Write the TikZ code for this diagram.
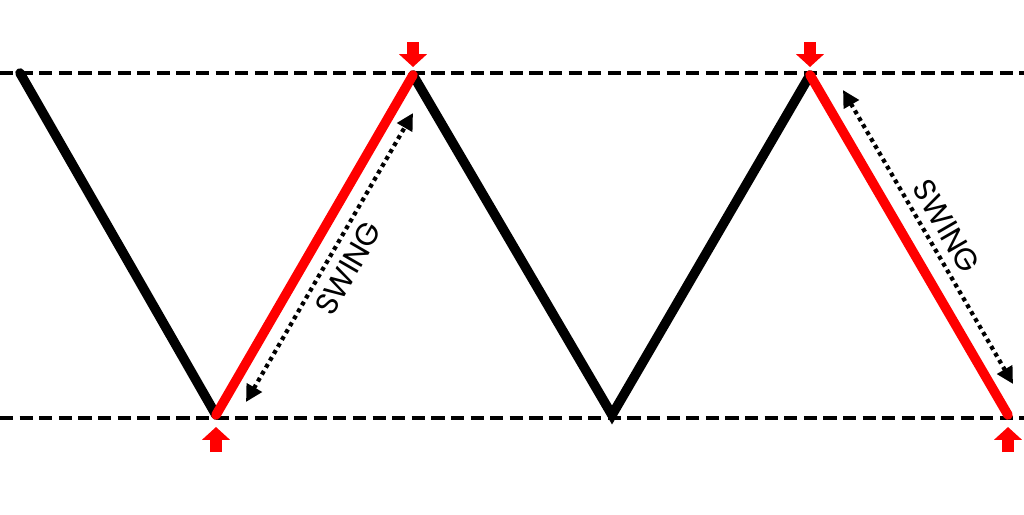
\documentclass[tikz,border=0pt]{standalone}
\usepackage{fontspec}
\setmainfont{Poppins}
\usepackage{tikz}
\usetikzlibrary{arrows.meta,calc}

\begin{document}
\begin{tikzpicture}[x=0.025cm, y=-0.025cm]
    \tikzset{level line/.style={draw, line width=2.6pt, dash pattern=on 0.33cm off 0.16cm}}
    \tikzset{leg/.style={line width=6.8pt, line cap=round}}
    \tikzset{marker/.style={red, line width=9pt, -{Triangle[width=0.68cm, length=0.32cm]}}}
    \tikzset{span/.style={line width=3pt, dash pattern=on 0.1cm off 0.1cm, {Triangle[width=0.42cm, length=0.42cm]}-{Triangle[width=0.42cm, length=0.42cm]}}}
    \tikzset{label text/.style={font=\fontsize{22}{26}\selectfont, sloped, inner sep=1pt}}
    \useasboundingbox (0,0) rectangle (1024,514);

    % Nodes
    \coordinate (top-l) at (0,73);
    \coordinate (top-r) at (1024,73);
    \coordinate (bot-l) at (0,418);
    \coordinate (bot-r) at (1024,418);

    \coordinate (p0) at (20,73);
    \coordinate (p1) at (216,415);
    \coordinate (p2) at (413,75);
    \coordinate (p3) at (612,415);
    \coordinate (p4) at (810,75);
    \coordinate (p5) at (1008,415);

    \coordinate (m2) at (413,42);
    \coordinate (m2-tip) at (413,67);
    \coordinate (m4) at (810,42);
    \coordinate (m4-tip) at (810,67);
    \coordinate (m1) at (216,452);
    \coordinate (m1-tip) at (216,427);
    \coordinate (m5) at (1008,452);
    \coordinate (m5-tip) at (1008,427);

    \coordinate (swing-a1) at (246,402);
    \coordinate (swing-a2) at (413,113);
    \coordinate (swing-b1) at (843,90);
    \coordinate (swing-b2) at (1013,384);

    % Levels
    \draw [level line] (top-l) -- (top-r);
    \draw [level line] (bot-l) -- (bot-r);

    % Legs
    \draw [leg] (p0) -- (p1);
    \draw [leg] (p2) -- (p3) -- (p4);
    \draw [leg, red] (p1) -- (p2);
    \draw [leg, red] (p4) -- (p5);

    % Arrows
    \draw [marker] (m2) -- (m2-tip);
    \draw [marker] (m4) -- (m4-tip);
    \draw [marker] (m1) -- (m1-tip);
    \draw [marker] (m5) -- (m5-tip);

    \draw [span] (swing-a1) -- (swing-a2) node (swing-a) [label text, midway, below=5pt] {SWING};
    \draw [span] (swing-b1) -- (swing-b2) node (swing-b) [label text, midway, above=5pt] {SWING};

\end{tikzpicture}
\end{document}
